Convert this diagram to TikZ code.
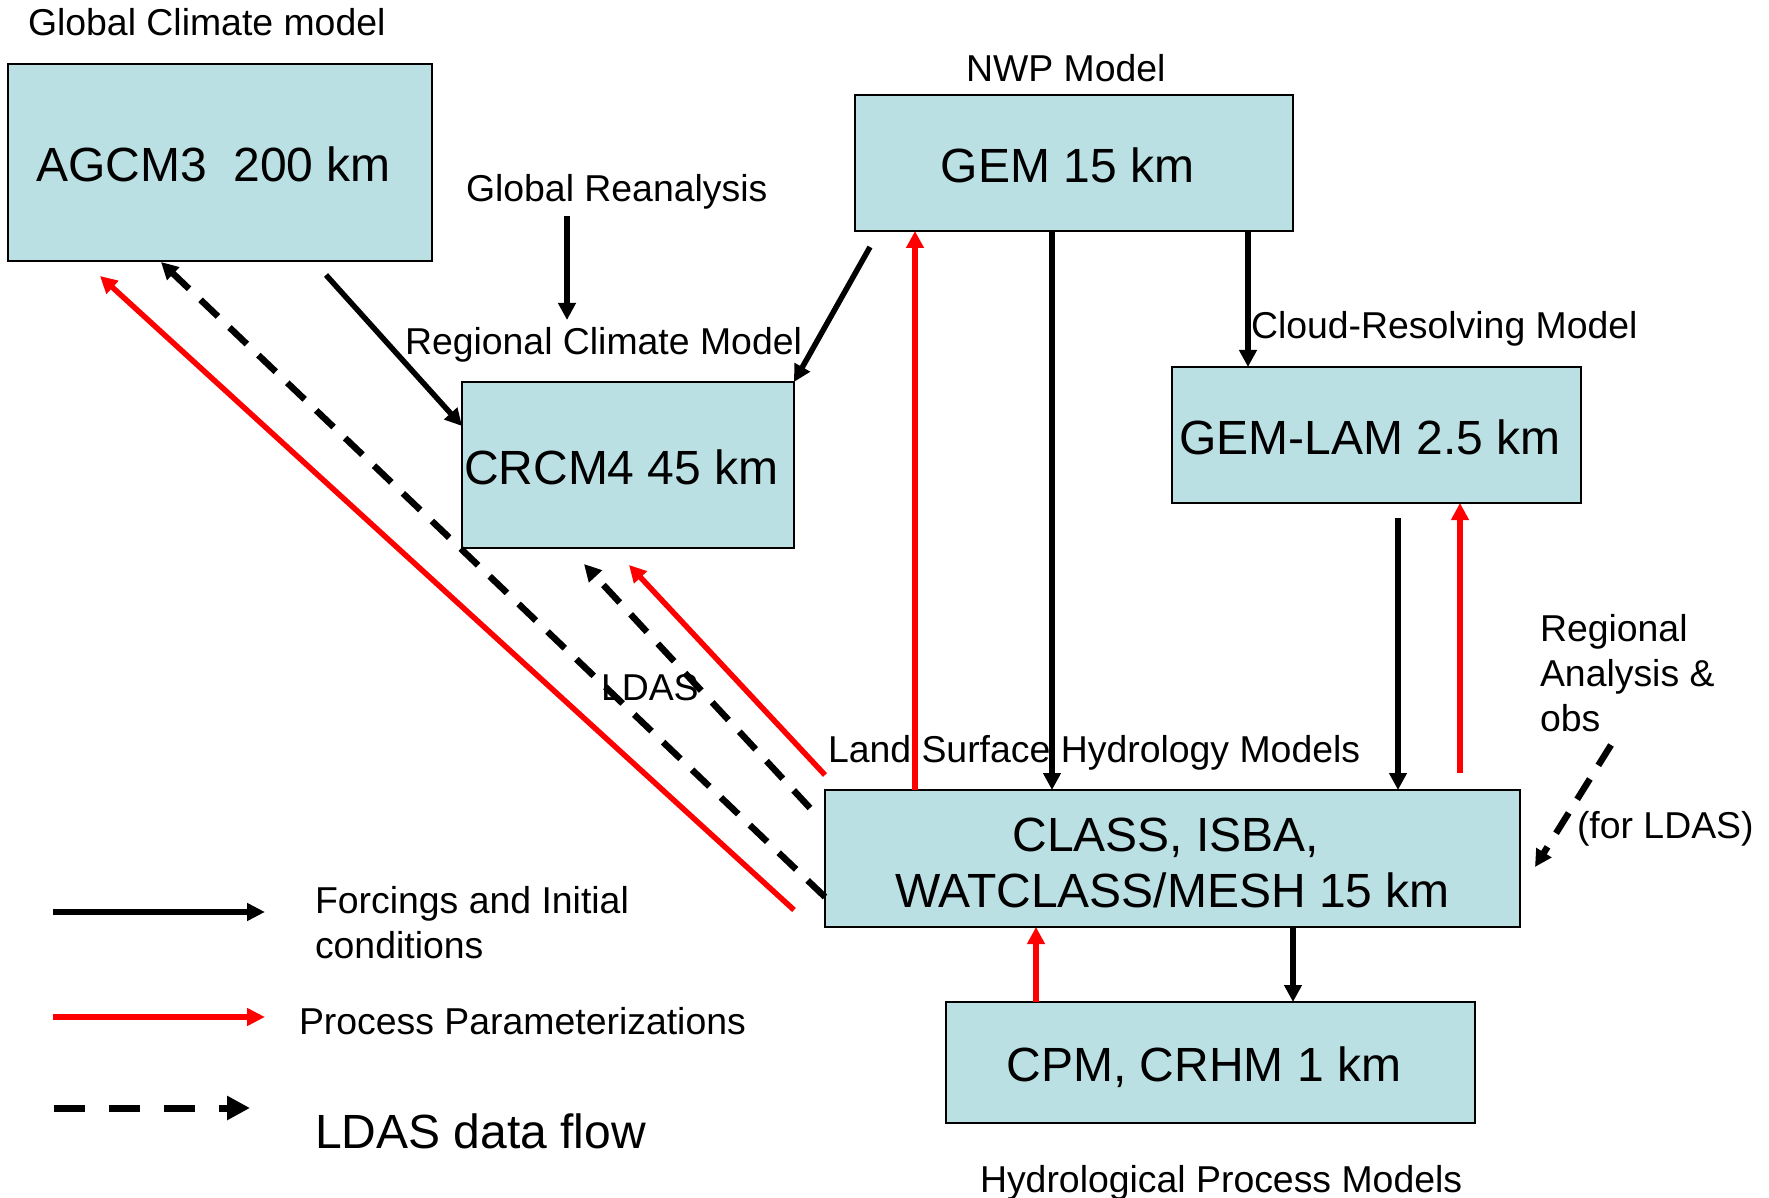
\documentclass[tikz,border=0pt]{standalone}
\usepackage{fontspec}
\setmainfont{Liberation Sans}
\usetikzlibrary{arrows.meta,calc}
\definecolor{boxfill}{RGB}{187,224,227}
\definecolor{pred}{RGB}{255,0,0}

% text inside the model boxes sits a little left of the box centre
\newcommand{\boxpad}{\hspace*{6.6pt}}

\begin{document}
\begin{tikzpicture}[x=0.5pt,y=-0.5pt,
  model/.style={draw=black, line width=1pt, fill=boxfill, inner sep=0pt, outer sep=0pt,
    font=\fontsize{24}{28}\selectfont, align=center},
  oneline/.style={text height=19.4pt, text depth=0pt},
  lbl/.style={inner sep=0pt, outer sep=0pt, anchor=base west, font=\fontsize{18.7}{21}\selectfont, align=left},
  forcing/.style={draw=black, line width=2.75pt, -{Triangle[length=8.5pt,width=8.5pt]}},
  param/.style={draw=pred, line width=2.75pt, -{Triangle[length=8.5pt,width=8.5pt]}},
  ldas/.style={draw=black, line width=3.25pt, dash pattern=on 12pt off 8pt, -{Triangle[length=8.5pt,width=8.5pt]}},
  legforcing/.style={draw=black, line width=3.25pt, -{Triangle[length=9pt,width=8.5pt]}},
  legparam/.style={draw=pred, line width=3pt, -{Triangle[length=9pt,width=8.5pt]}},
  legldas/.style={draw=black, line width=3.5pt, dash pattern=on 15.5pt off 12pt, -{Triangle[length=11.5pt,width=11.5pt]}}
]
\useasboundingbox (0,0) rectangle (1769,1198);

% model boxes
\node[model, oneline, minimum width=212pt, minimum height=98.5pt] (agcm) at (220,162.5) {AGCM3\ \ 200 km\boxpad};
\node[model, oneline, minimum width=219pt, minimum height=68pt] (gem) at (1074,163) {GEM 15 km\boxpad};
\node[model, oneline, minimum width=166pt, minimum height=83pt] (crcm) at (628,465) {CRCM4 45 km\boxpad};
\node[model, oneline, minimum width=204.5pt, minimum height=68pt] (gemlam) at (1376.5,435) {GEM-LAM 2.5 km\boxpad};
\node[model, minimum width=347.5pt, minimum height=68.5pt] (class) at (1172.5,858.5)
  {\rule{0pt}{21.5pt}CLASS, ISBA,\boxpad\\WATCLASS/MESH 15 km};
\node[model, oneline, minimum width=264.5pt, minimum height=60.5pt] (cpm) at (1210.5,1062.5) {CPM, CRHM 1 km\boxpad};

% labels
\node[lbl] (glob) at (28,36) {Global Climate model};
\node[lbl] (nwp) at (966,82) {NWP Model};
\node[lbl] (grea) at (466,202) {Global Reanalysis};
\node[lbl] (rcm) at (405,355) {Regional Climate Model};
\node[lbl] (crm) at (1251,339) {Cloud-Resolving Model};
\node[lbl] (ldasl) at (601,700) {LDAS};
\node[lbl] (lshm) at (828,762) {Land Surface Hydrology Models};
\node[lbl, anchor=north west, font=\fontsize{18.7}{22.5}\selectfont] (raobs) at (1540,614) {Regional\\Analysis \&\\obs};
\node[lbl] (forl) at (1577,838) {(for LDAS)};
\node[lbl] (hpm) at (980,1192) {Hydrological Process Models};

% forcings and initial conditions
\draw[forcing] ($(agcm.south west)+(318,14)$) -- ($(crcm.west)+(0,-39)$);
\draw[forcing] ($(grea.base west)+(101,14)$) -- ($(rcm.base west)+(162,-35)$);
\draw[forcing] ($(gem.south west)+(15,16)$) -- (crcm.north east);
\draw[forcing] ($(gem.south west)+(197,0)$) coordinate (g1) -- (g1 |- class.north);
\draw[forcing] ($(gem.south west)+(393,0)$) coordinate (g2) -- (g2 |- gemlam.north);
\draw[forcing] ($(gemlam.south west)+(226,15)$) coordinate (g3) -- (g3 |- class.north);
\draw[forcing] ($(class.south west)+(468,0)$) coordinate (c1) -- (c1 |- cpm.north);

% process parameterizations
\draw[param] ($(class.west)+(-31,51.5)$) -- ($(agcm.south west)+(92,15)$);
\draw[param] ($(class.north west)+(0,-15)$) -- ($(crcm.south west)+(167,17)$);
\draw[param] ($(class.north west)+(90,0)$) coordinate (c2) -- (c2 |- gem.south);
\draw[param] ($(class.north west)+(635,-17)$) coordinate (c3) -- (c3 |- gemlam.south);
\draw[param] ($(cpm.north west)+(90,0)$) coordinate (p1) -- (p1 |- class.south);

% LDAS data flow
\draw[ldas] ($(class.west)+(0,38.5)$) -- ($(agcm.south west)+(153,1)$);
\draw[ldas] ($(class.north west)+(-15,18)$) -- ($(crcm.south west)+(122,16)$);
\draw[ldas] ($(raobs.north west)+(71,131)$) -- ($(class.east)+(15,8.5)$);

% legend
\coordinate (la0) at (53,912);
\coordinate (la1) at (265,912);
\coordinate (lb0) at (53,1017);
\coordinate (lb1) at (265,1017);
\coordinate (lc0) at (54,1108);
\coordinate (lc1) at (250,1108);
\draw[legforcing] (la0) -- (la1);
\draw[legparam] (lb0) -- (lb1);
\draw[legldas] (lc0) -- (lc1);
\node[lbl, anchor=north west, font=\fontsize{18.7}{22.5}\selectfont] (leg1) at (315,886) {Forcings and Initial\\conditions};
\node[lbl] (leg2) at (299,1034) {Process Parameterizations};
\node[lbl, font=\fontsize{24}{24}\selectfont] (leg3) at (315,1148) {LDAS data flow};
\end{tikzpicture}
\end{document}
